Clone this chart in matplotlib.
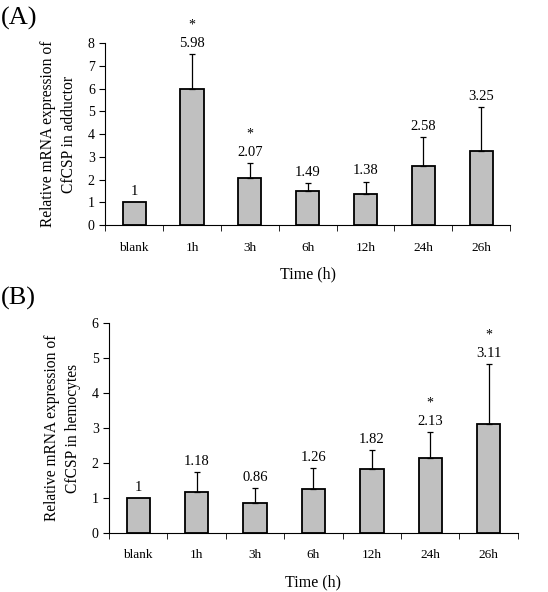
import matplotlib
matplotlib.use("Agg")
import matplotlib.pyplot as plt
import numpy as np

plt.rcParams['font.family'] = ['Liberation Serif', 'DejaVu Serif']

categories = ["blank", "1h", "3h", "6h", "12h", "24h", "26h"]

# Panel A: adductor
vals_a = [1.0, 5.98, 2.07, 1.49, 1.38, 2.58, 3.25]
err_a = [0.0, 1.54, 0.67, 0.37, 0.53, 1.28, 1.93]
star_a = [False, True, True, False, False, False, False]
labels_a = ["1", "5.98", "2.07", "1.49", "1.38", "2.58", "3.25"]

# Panel B: hemocytes
vals_b = [1.0, 1.18, 0.86, 1.26, 1.82, 2.13, 3.11]
err_b = [0.0, 0.56, 0.42, 0.60, 0.54, 0.75, 1.72]
star_b = [False, False, False, False, False, True, True]
labels_b = ["1", "1.18", "0.86", "1.26", "1.82", "2.13", "3.11"]


def draw_panel(ax, vals, errs, stars, labels, ymax, ylabel):
    x = np.arange(len(categories))
    ax.bar(x, vals, width=0.4, color="#c0c0c0", edgecolor="black", linewidth=1.3, zorder=2)
    for xi, v, e in zip(x, vals, errs):
        if e > 0:
            ax.errorbar(xi, v, yerr=[[0], [e]], fmt="none", ecolor="black",
                        elinewidth=0.9, capsize=2.5, capthick=0.9, zorder=3)
    for xi, v, e, s, lab in zip(x, vals, errs, stars, labels):
        top = v + e
        ax.annotate(lab, (xi, top), xytext=(0, 3), textcoords="offset points",
                    ha="center", va="bottom", fontsize=10.5, annotation_clip=False)
        if s:
            ax.annotate("*", (xi, top), xytext=(0, 16), textcoords="offset points",
                        ha="center", va="bottom", fontsize=10, annotation_clip=False)
    ax.set_xlim(-0.5, len(categories) - 0.5)
    ax.set_ylim(0, ymax)
    ax.set_yticks(range(0, ymax + 1))
    ax.set_xticks(x)
    ax.set_xticklabels(categories, fontsize=9.5)
    ax.set_xticks(np.arange(-0.5, len(categories)), minor=True)
    ax.tick_params(axis="x", which="major", length=0, pad=12)
    ax.tick_params(axis="x", which="minor", length=4, direction="out")
    ax.tick_params(axis="y", length=4, direction="out", labelsize=10)
    ax.spines["top"].set_visible(False)
    ax.spines["right"].set_visible(False)
    ax.set_xlabel("Time (h)", fontsize=11.5, labelpad=9)
    ax.set_ylabel(ylabel, fontsize=11.2, labelpad=8, linespacing=1.35)


fig = plt.figure(figsize=(5.48, 5.92), dpi=100)

ax_a = fig.add_axes([0.192, 0.620, 0.739, 0.307])
draw_panel(ax_a, vals_a, err_a, star_a, labels_a, 8,
           "Relative mRNA expression of\nCfCSP in adductor")

ax_b = fig.add_axes([0.199, 0.100, 0.746, 0.354])
draw_panel(ax_b, vals_b, err_b, star_b, labels_b, 6,
           "Relative mRNA expression of\nCfCSP in hemocytes")

fig.text(0.002, 0.988, "(A)", fontsize=19, ha="left", va="top")
fig.text(0.002, 0.515, "(B)", fontsize=19, ha="left", va="top")

fig.savefig("out.png", dpi=100)
